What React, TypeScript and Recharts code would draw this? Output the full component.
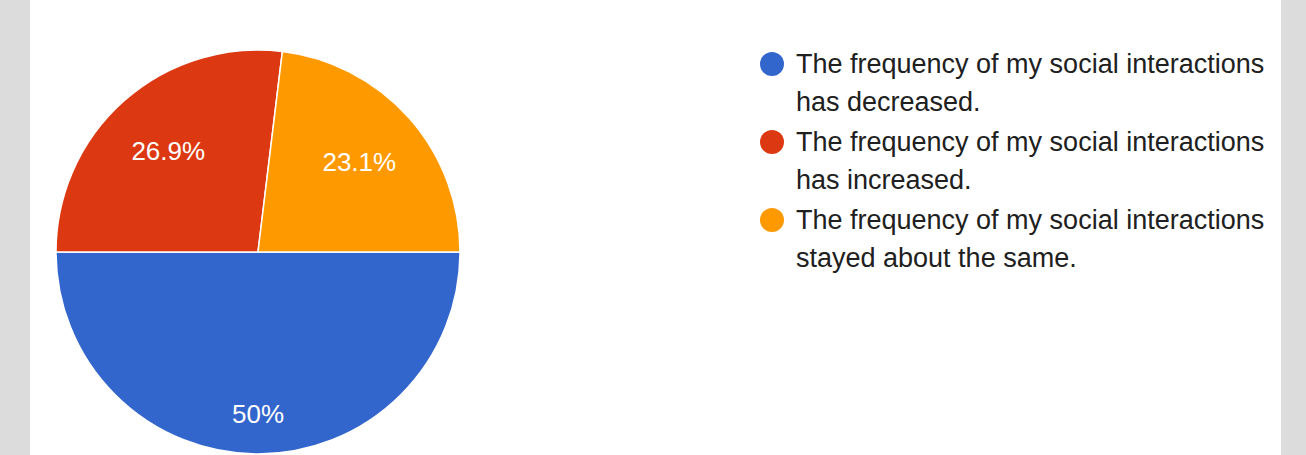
import { Cell, Legend, Pie, PieChart } from 'recharts'

const answers = [
  'The frequency of my social interactions has decreased.',
  'The frequency of my social interactions has increased.',
  'The frequency of my social interactions stayed about the same.',
]
const responses = [13, 7, 6]
const colors = ['#3366cc', '#dc3912', '#ff9900']

const data = answers.map((name, i) => ({ name, value: responses[i] }))

const RAD = Math.PI / 180

function renderLabel(props: any) {
  const { cx, cy, midAngle, outerRadius, percent } = props
  const r = outerRadius * (percent >= 0.5 ? 0.8 : 0.67)
  const x = cx + r * Math.cos(-midAngle * RAD)
  const y = cy + r * Math.sin(-midAngle * RAD)
  const txt = `${Math.round(percent * 1000) / 10}%`
  return (
    <text
      x={x}
      y={y}
      fill='#ffffff'
      fontSize={26}
      fontFamily='"Liberation Sans", Arial, sans-serif'
      textAnchor='middle'
      dominantBaseline='central'
    >
      {txt}
    </text>
  )
}

function LegendBox() {
  return (
    <div style={{ fontFamily: '"Liberation Sans", Arial, sans-serif' }}>
      {answers.map((a, i) => (
        <div
          key={a}
          style={{ display: 'flex', alignItems: 'flex-start', marginBottom: 2 }}
        >
          <span
            style={{
              width: 24,
              height: 24,
              borderRadius: '50%',
              background: colors[i],
              marginTop: 7,
              marginRight: 12,
              flex: 'none',
            }}
          />
          <span
            style={{
              width: 490,
              fontSize: 27,
              lineHeight: '38px',
              color: '#202020',
            }}
          >
            {a}
          </span>
        </div>
      ))}
    </div>
  )
}

export default function App() {
  return (
    <div
      style={{
        position: 'absolute',
        left: 0,
        top: 0,
        width: 1306,
        height: 455,
        background: '#dcdcdc',
        overflow: 'hidden',
      }}
    >
      <div
        style={{
          position: 'absolute',
          left: 30,
          top: 0,
          width: 1251,
          height: 455,
          background: '#ffffff',
        }}
      >
        <PieChart
          width={1251}
          height={455}
          margin={{ top: 0, right: 0, bottom: 0, left: 0 }}
        >
          <Pie
            data={data}
            dataKey='value'
            nameKey='name'
            cx={228}
            cy={252}
            outerRadius={202}
            startAngle={0}
            endAngle={-360}
            stroke='#ffffff'
            strokeWidth={1.5}
            label={renderLabel}
            labelLine={false}
            isAnimationActive={false}
          >
            {data.map((d, i) => (
              <Cell key={d.name} fill={colors[i]} />
            ))}
          </Pie>
          <Legend
            content={<LegendBox />}
            wrapperStyle={{ position: 'absolute', left: 730, top: 45, width: 520 }}
          />
        </PieChart>
      </div>
    </div>
  )
}
